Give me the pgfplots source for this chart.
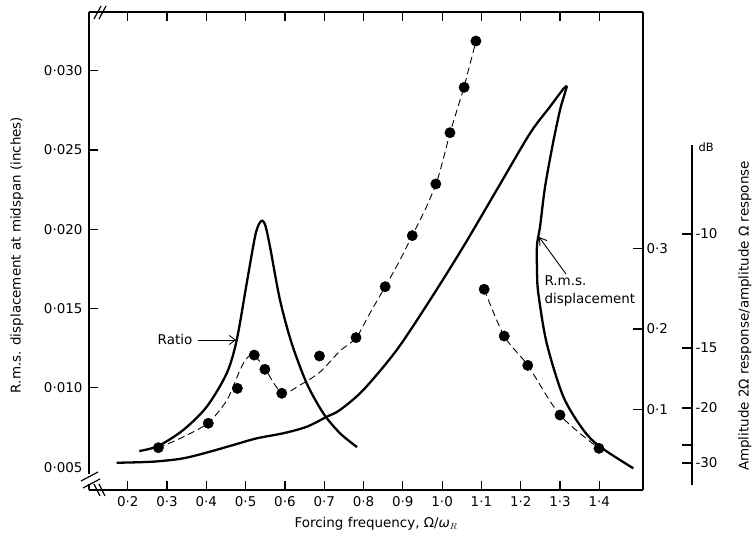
\documentclass[border=0pt]{standalone}
\usepackage{fontspec}
\setmainfont{DejaVu Sans}
\usepackage{pgfplots}
\usepackage{pgfplotstable}
\pgfplotsset{compat=1.18}
\usetikzlibrary{arrows.meta}

% solid curve: ratio
\pgfplotstableread{
f v
0.2295 0.00602
0.2779 0.00634
0.3415 0.00735
0.4010 0.00881
0.4519 0.01092
0.4774 0.01302
0.5028 0.01660
0.5239 0.01953
0.5341 0.02033
0.5425 0.02054
0.5506 0.02021
0.5621 0.01890
0.5875 0.01554
0.6173 0.01281
0.6555 0.01029
0.6977 0.00840
0.7402 0.00714
0.7835 0.00627
}\ratio

% solid curve: r.m.s. displacement, rising branch
\pgfplotstableread{
f v
0.1720 0.00528
0.2651 0.00535
0.3415 0.00556
0.4094 0.00598
0.4687 0.00640
0.5282 0.00682
0.5959 0.00714
0.6555 0.00755
0.7064 0.00818
0.7402 0.00861
0.7995 0.00987
0.8845 0.01239
0.9692 0.01554
1.0539 0.01890
1.1389 0.02248
1.2237 0.02605
1.2746 0.02773
1.3084 0.02885
1.3178 0.02904
}\rmsup

% r.m.s. displacement, returning branch
\pgfplotstableread{
f v
1.3178 0.02904
1.3102 0.02840
1.3000 0.02752
1.2822 0.02544
1.2619 0.02267
1.2491 0.02015
1.2415 0.01901
1.2415 0.01743
1.2448 0.01596
1.2662 0.01281
1.3084 0.00945
1.3593 0.00735
1.4018 0.00629
1.4865 0.00493
}\rmsdown

% dashed fair curve through the measured points
\pgfplotstableread{
f v
0.2771 0.00621
0.3407 0.00690
0.4043 0.00779
0.4527 0.00924
0.4858 0.01113
0.5036 0.01189
0.5214 0.01207
0.5494 0.01119
0.5926 0.00968
0.6384 0.01018
0.6893 0.01100
0.7402 0.01233
0.7809 0.01315
0.8165 0.01472
0.8547 0.01636
0.8929 0.01806
0.9234 0.01958
0.9565 0.02122
0.9845 0.02286
1.0023 0.02437
1.0201 0.02607
1.0379 0.02752
1.0557 0.02897
1.0710 0.03042
1.0863 0.03187
}\dashA

\pgfplotstableread{
f v
0.278 0.00623
0.405 0.00777
0.479 0.00997
0.522 0.01207
0.549 0.01117
0.592 0.00966
0.688 0.01201
0.781 0.01317
0.855 0.01638
0.924 0.01960
0.984 0.02286
1.020 0.02609
1.056 0.02895
1.086 0.03187
}\ptsA

\pgfplotstableread{
f v
1.107 0.01622
1.158 0.01327
1.218 0.01142
1.300 0.00829
1.399 0.00619
}\ptsB

\begin{document}
\begin{tikzpicture}[x=1bp,y=1bp,font=\fontsize{13.5}{15}\selectfont]
\useasboundingbox (0,0) rectangle (754,547);

\begin{axis}[
  at={(89bp,57bp)}, anchor=south west,
  scale only axis, width=554bp, height=478bp,
  xmin=0.1015, xmax=1.5112,
  ymin=0.003563, ymax=0.033701,
  clip=false,
  axis line style={draw=none},
  tick align=inside,
  major tick length=9bp,
  tick style={line width=1.2pt, black},
  tick label style={font=\fontsize{13.5}{15}\selectfont},
  xtick={0.2,0.3,0.4,0.5,0.6,0.7,0.8,0.9,1.0,1.1,1.2,1.3,1.4},
  xticklabels={0·2,0·3,0·4,0·5,0·6,0·7,0·8,0·9,1·0,1·1,1·2,1·3,1·4},
  xtick pos=both, xticklabel pos=lower,
  ytick={0.010,0.015,0.020,0.025,0.030},
  yticklabels={0·010,0·015,0·020,0·025,0·030},
  ytick pos=left,
  extra y ticks={0.005}, extra y tick labels={0·005},
  extra y tick style={major tick length=0pt},
  scaled y ticks=false, scaled x ticks=false,
  yticklabel style={xshift=-3bp},
  xticklabel style={yshift=-3bp},
]
\draw[line width=1.4pt] (rel axis cs:0,1) -- (rel axis cs:1,1);
\draw[line width=1.4pt] (rel axis cs:0,0) -- (rel axis cs:1,0);
\draw[line width=1.4pt] (rel axis cs:0,1) -- (rel axis cs:0,0.0335);

\addplot[black, line width=2.3pt, smooth] table[x=f,y=v] {\ratio};
\addplot[black, line width=2.3pt, smooth] table[x=f,y=v] {\rmsup};
\addplot[black, line width=2.3pt, smooth] table[x=f,y=v] {\rmsdown};
\addplot[black, line width=0.9pt, dash pattern=on 7pt off 4pt, smooth] table[x=f,y=v] {\dashA};
\addplot[black, line width=0.9pt, dash pattern=on 7pt off 4pt, smooth] table[x=f,y=v] {\ptsB};
\addplot[only marks, mark=*, mark size=5.2bp, black] table[x=f,y=v] {\ptsA};
\addplot[only marks, mark=*, mark size=5.2bp, black] table[x=f,y=v] {\ptsB};
\end{axis}

% ratio scale on the right-hand frame
\begin{axis}[
  at={(89bp,57bp)}, anchor=south west,
  scale only axis, width=554bp, height=478bp,
  xmin=0, xmax=1, ymin=0, ymax=0.5938,
  axis x line=none, axis y line*=right,
  axis line style={line width=1.4pt, -},
  tick align=inside, major tick length=10bp,
  tick style={line width=1.2pt, black},
  tick label style={font=\fontsize{13.5}{15}\selectfont},
  ytick={0.1,0.2,0.3}, yticklabels={0·1,0·2,0·3},
]
\end{axis}

% dB scale
\begin{axis}[
  at={(692bp,62bp)}, anchor=south east,
  scale only axis, width=20bp, height=340bp,
  xmin=0, xmax=1, ymin=0, ymax=340,
  axis x line=none, axis y line*=right,
  axis line style={line width=1.2pt, -},
  tick align=inside, major tick length=10bp,
  tick style={line width=1.2pt, black},
  tick label style={font=\fontsize{13.5}{15}\selectfont},
  ytick={22,40,77,137,251}, yticklabels={-30,,-20,-15,-10},
]
\end{axis}
\node[anchor=west, font=\fontsize{11.5}{13}\selectfont] at (695,400) {dB};

% axis breaks
\draw[line width=1.2pt] (94,528) -- (101,541);
\draw[line width=1.2pt] (99,528) -- (106,541);
\draw[line width=1.4pt] (89,63) -- (89,57);
\draw[line width=1.2pt] (81,66) -- (98,75);
\draw[line width=1.2pt] (83,59) -- (100,68);
\draw[line width=1.2pt] (94,63) -- (100,51);
\draw[line width=1.2pt] (99,63) -- (105,51);

% annotations
\node at (175,208) {Ratio};
\draw[line width=0.9pt, -{Straight Barb[length=6bp,width=9bp]}] (198,207) -- (236,207);
\node[anchor=west] at (541,266) {R.m.s.};
\node[anchor=west] at (541,247) {displacement};
\draw[line width=0.9pt, -{Straight Barb[length=7bp,width=9bp]}] (566,273) -- (539,310);

% axis titles
\node[rotate=90] at (17,292) {R.m.s. displacement at midspan (inches)};
\node[rotate=90] at (745,231) {Amplitude 2Ω response/amplitude Ω response};
\node at (376,23) {Forcing frequency, Ω/\textit{ω}$_{R}$};
\end{tikzpicture}
\end{document}
